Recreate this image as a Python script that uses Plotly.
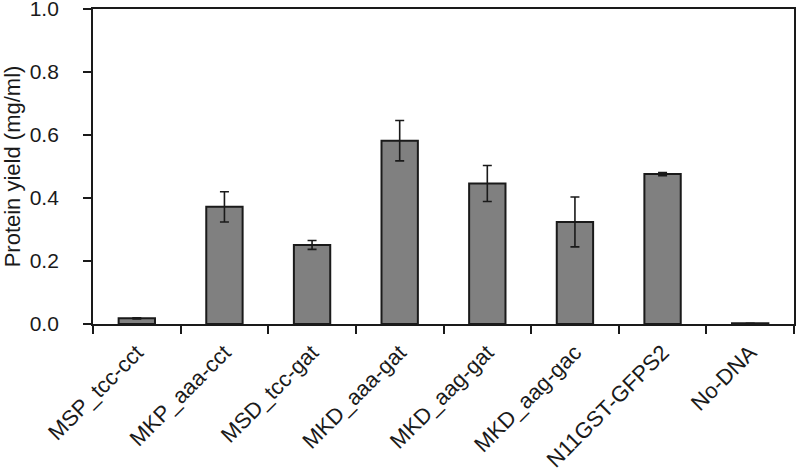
import plotly.graph_objects as go

categories = ["MSP_tcc-cct", "MKP_aaa-cct", "MSD_tcc-gat", "MKD_aaa-gat",
              "MKD_aag-gat", "MKD_aag-gac", "N11GST-GFPS2", "No-DNA"]
yield_vals = [0.018, 0.372, 0.251, 0.582, 0.446, 0.324, 0.476, 0.002]
yield_err = [0.002, 0.048, 0.014, 0.064, 0.057, 0.079, 0.005, 0.0]
y_ticks = [0.0, 0.2, 0.4, 0.6, 0.8, 1.0]
y_ticklabels = ["0.0", "0.2", "0.4", "0.6", "0.8", "1.0"]

dark = "#1a1a1a"

fig = go.Figure()
fig.add_trace(go.Bar(
    x=categories, y=yield_vals,
    marker=dict(color="#808080", line=dict(color=dark, width=2)),
    error_y=dict(type="data", array=yield_err, visible=True,
                 color=dark, thickness=1.6, width=4.5),
))

fig.update_layout(
    width=796, height=468,
    margin=dict(l=93, r=2, t=9, b=144),
    paper_bgcolor="white", plot_bgcolor="white",
    bargap=0.585,
    showlegend=False,
    font=dict(family="Liberation Sans, Arial, sans-serif", size=21, color=dark),
)
fig.update_xaxes(
    type="category", tickangle=-45, tickson="boundaries", automargin=False,
    ticks="outside", ticklen=8, tickwidth=1.5, tickcolor=dark,
    showline=True, linecolor=dark, linewidth=1.8, mirror=True,
    showgrid=False, tickfont=dict(size=22), ticklabelstandoff=5,
    ticklabeloverflow="allow",
)
fig.update_yaxes(
    range=[0, 1.0], tickvals=y_ticks, ticktext=y_ticklabels, automargin=False,
    ticks="outside", ticklen=8, tickwidth=1.5, tickcolor=dark,
    showline=True, linecolor=dark, linewidth=1.8, mirror=True,
    showgrid=False, zeroline=False, ticklabelstandoff=20,
    ticklabeloverflow="allow",
    title=dict(text="Protein yield (mg/ml)", font=dict(size=22), standoff=14),
    tickfont=dict(size=21),
)

fig.write_html("out.html", config={"displayModeBar": False},
               post_script="document.body.style.margin='0';document.body.style.overflow='hidden';")
